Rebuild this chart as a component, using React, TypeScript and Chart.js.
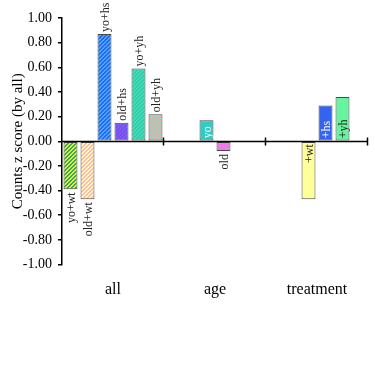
import React, { useEffect, useRef } from "react";
import { Chart, registerables } from "chart.js";

Chart.register(...registerables);

const categories = ["all", "age", "treatment"];

// 6 bar slots per category; null = no bar
const slot0Values = [-0.39, null, null];
const slot1Values = [-0.47, null, null];
const slot2Values = [0.87, 0.17, -0.47];
const slot3Values = [0.15, -0.08, 0.29];
const slot4Values = [0.59, null, 0.36];
const slot5Values = [0.22, null, null];

const slot0Labels = ["yo+wt", "", ""];
const slot1Labels = ["old+wt", "", ""];
const slot2Labels = ["yo+hs", "yo", "+wt"];
const slot3Labels = ["old+hs", "old", "+hs"];
const slot4Labels = ["yo+yh", "", "+yh"];
const slot5Labels = ["old+yh", "", ""];

// label placement: "out" = outside bar end, "in" = inside from the base
const slot0Place = ["out", "", ""];
const slot1Place = ["out", "", ""];
const slot2Place = ["out", "in", "in"];
const slot3Place = ["out", "out", "in"];
const slot4Place = ["out", "", "in"];
const slot5Place = ["out", "", ""];

const yTicksMin = -1;
const yTicksMax = 1;
const yTickStep = 0.2;

const FONT = "'Liberation Serif', 'Times New Roman', serif";

function stripes(c1: string, c2: string): CanvasPattern | string {
  const cv = document.createElement("canvas");
  cv.width = 4;
  cv.height = 4;
  const ctx = cv.getContext("2d");
  if (!ctx) return c1;
  for (let y = 0; y < 4; y++) {
    for (let x = 0; x < 4; x++) {
      ctx.fillStyle = (x + y) % 4 < 2 ? c1 : c2;
      ctx.fillRect(x, y, 1, 1);
    }
  }
  const p = document.createElement("canvas").getContext("2d")!.createPattern(cv, "repeat");
  return p || c1;
}

export default function App() {
  const ref = useRef<HTMLCanvasElement | null>(null);

  useEffect(() => {
    if (!ref.current) return;

    const solid = (c: string) => c;
    const colors: any[][] = [
      [stripes("#f2f000", "#1fa6a0"), null, null],
      [stripes("#ffb3c6", "#ffffa8"), null, null],
      [stripes("#2466f5", "#4aa8f0"), solid("#33c9c4"), solid("#ffff99")],
      [stripes("#a848f0", "#4a66f0"), solid("#f27ae6"), solid("#3463f2")],
      [stripes("#3de39e", "#36c6c2"), null, solid("#66f59e")],
      [stripes("#f2a0c6", "#86e29e"), null, null],
    ];
    const textColors: string[][] = [
      ["#222", "", ""],
      ["#222", "", ""],
      ["#222", "#ffffff", "#222"],
      ["#222", "#222", "#ffffff"],
      ["#222", "", "#222"],
      ["#222", "", ""],
    ];

    const values = [slot0Values, slot1Values, slot2Values, slot3Values, slot4Values, slot5Values];
    const labels = [slot0Labels, slot1Labels, slot2Labels, slot3Labels, slot4Labels, slot5Labels];
    const places = [slot0Place, slot1Place, slot2Place, slot3Place, slot4Place, slot5Place];

    const barLabels = {
      id: "barLabels",
      afterDatasetsDraw(chart: any) {
        const ctx = chart.ctx;
        const y0 = chart.scales.y.getPixelForValue(0);
        ctx.save();
        ctx.font = `12px ${FONT}`;
        ctx.textBaseline = "middle";
        chart.data.datasets.forEach((ds: any, di: number) => {
          const meta = chart.getDatasetMeta(di);
          meta.data.forEach((el: any, i: number) => {
            const v = ds.data[i];
            const txt = labels[di][i];
            if (v === null || v === undefined || !txt) return;
            const place = places[di][i];
            ctx.fillStyle = textColors[di][i];
            ctx.save();
            if (place === "out") {
              if (v >= 0) {
                ctx.translate(el.x, el.y - 2);
                ctx.rotate(-Math.PI / 2);
                ctx.textAlign = "left";
              } else {
                ctx.translate(el.x, el.y + 3);
                ctx.rotate(-Math.PI / 2);
                ctx.textAlign = "right";
              }
            } else {
              if (v >= 0) {
                ctx.translate(el.x, y0 - 3);
                ctx.rotate(-Math.PI / 2);
                ctx.textAlign = "left";
              } else {
                ctx.translate(el.x, y0 + 3);
                ctx.rotate(-Math.PI / 2);
                ctx.textAlign = "right";
              }
            }
            ctx.fillText(txt, 0, 1);
            ctx.restore();
          });
        });
        ctx.restore();
      },
      afterDraw(chart: any) {
        const ctx = chart.ctx;
        const area = chart.chartArea;
        const y0 = Math.round(chart.scales.y.getPixelForValue(0)) + 0.5;
        ctx.save();
        ctx.strokeStyle = "#000";
        ctx.lineWidth = 1.5;
        ctx.beginPath();
        ctx.moveTo(area.left, y0);
        ctx.lineTo(area.right, y0);
        ctx.stroke();
        const n = categories.length;
        const w = (area.right - area.left) / n;
        for (let i = 1; i <= n; i++) {
          const x = Math.round(area.left + w * i) - 0.5;
          ctx.beginPath();
          ctx.moveTo(x, y0 - 4);
          ctx.lineTo(x, y0 + 4);
          ctx.stroke();
        }
        ctx.restore();
      },
    };

    const chart = new Chart(ref.current, {
      type: "bar",
      data: {
        labels: categories,
        datasets: values.map((vals, di) => ({
          label: "slot" + di,
          data: vals as any,
          backgroundColor: colors[di].map((c) => c || "transparent"),
          borderColor: "#4a4a4a",
          borderWidth: 1,
          borderSkipped: false,
          barPercentage: 0.82,
          categoryPercentage: 1,
        })),
      },
      options: {
        animation: false,
        responsive: false,
        maintainAspectRatio: false,
        layout: { padding: { top: 18, right: 7, left: 0, bottom: 0 } },
        plugins: {
          legend: { display: false },
          tooltip: { enabled: false },
        },
        scales: {
          x: {
            grid: { display: false },
            border: { display: false },
            ticks: {
              color: "#000",
              font: { family: FONT, size: 16 },
              padding: 8,
              maxRotation: 0,
            },
            afterFit: (s: any) => {
              s.height = 110.5;
            },
          },
          y: {
            min: yTicksMin,
            max: yTicksMax,
            grid: {
              display: true,
              drawOnChartArea: false,
              drawTicks: true,
              tickLength: 4,
              color: "#000",
              lineWidth: 1.5,
            },
            border: { display: true, color: "#000", width: 1.5 },
            ticks: {
              stepSize: yTickStep,
              color: "#000",
              font: { family: FONT, size: 14 },
              padding: 6,
              callback: (v: any) => Number(v).toFixed(2),
            },
            title: {
              display: true,
              text: "Counts z score (by all)",
              color: "#000",
              font: { family: FONT, size: 15 },
              padding: { top: 9, bottom: 0 },
            },
            afterFit: (s: any) => {
              s.width = 62;
            },
          },
        },
      },
      plugins: [barLabels],
    });

    return () => chart.destroy();
  }, []);

  return (
    <div style={{ position: "fixed", left: 0, top: 0, width: 375, height: 375, background: "#fff" }}>
      <canvas ref={ref} width={375} height={375} />
    </div>
  );
}
